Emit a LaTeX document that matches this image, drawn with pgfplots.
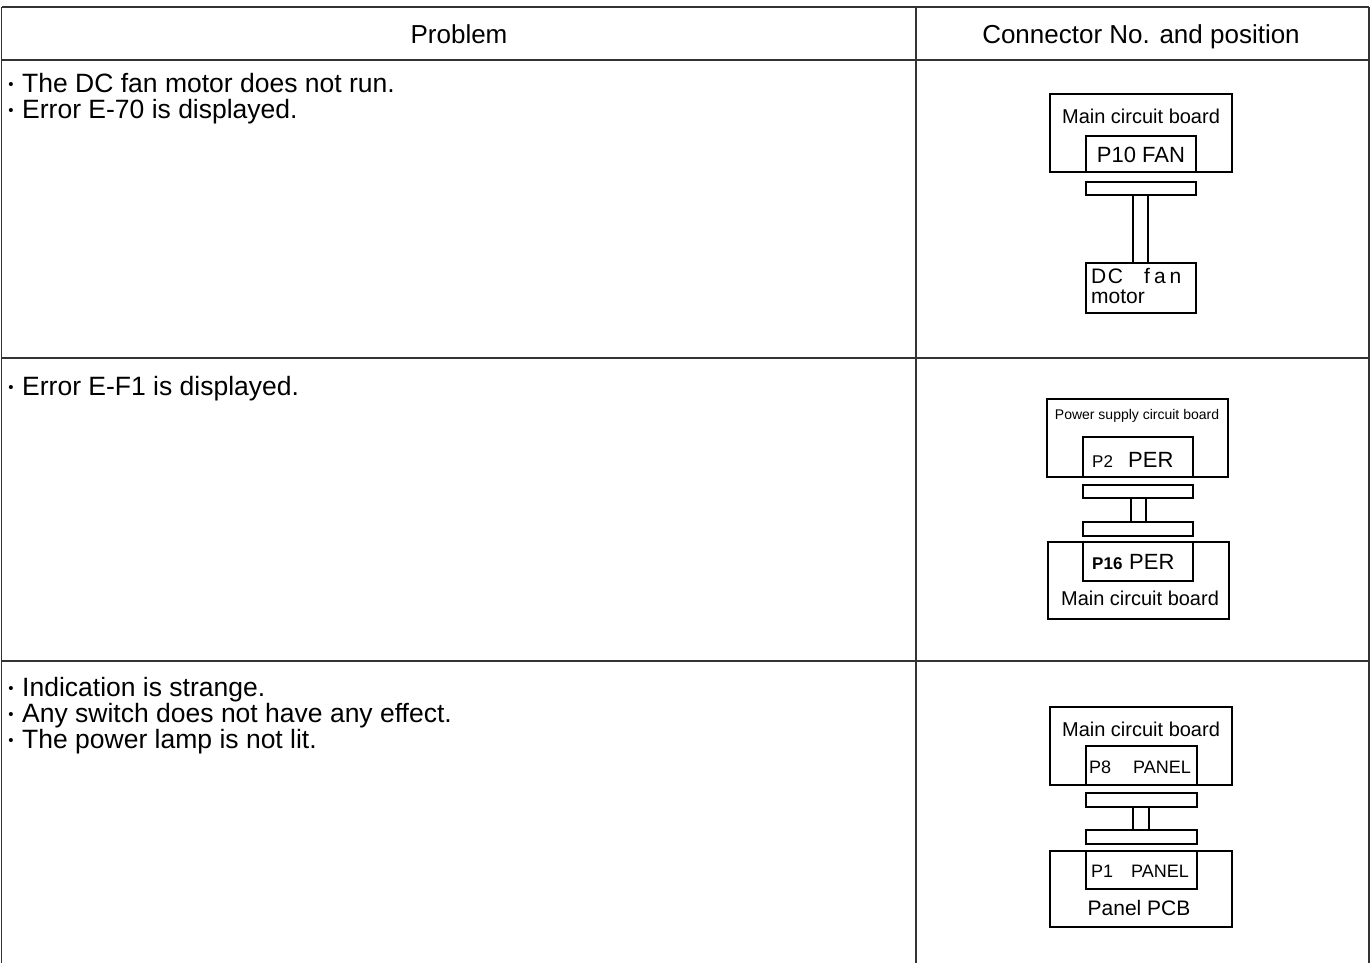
\documentclass[border=0pt]{standalone}
\usepackage{pgfplots}
\pgfplotsset{compat=1.18}
\usepackage{fontspec}
\setmainfont{Liberation Sans}
\newcommand{\fs}[1]{\fontsize{#1}{#1}\selectfont}
\newcommand{\bul}{{\fs{15}\raisebox{2.5pt}{•}}}
\begin{document}
\begin{tikzpicture}
\begin{axis}[
  width=1372pt, height=963pt, scale only axis,
  xmin=0, xmax=1372, ymin=0, ymax=963, y dir=reverse,
  hide axis, clip=false,
]
% fixed page frame
\path[draw=none] (0,0) rectangle (1372,963);
% ---------- table grid ----------
\begin{scope}[line width=1.4pt, color=black!80]
\draw (1.5,7) -- (1369,7);
\draw (1.5,60) -- (1369,60);
\draw (1.5,358) -- (1369,358);
\draw (1.5,661) -- (1369,661);
\draw (1.5,7) -- (1.5,963);
\draw (916,7) -- (916,963);
\draw (1369,7) -- (1369,963);
\end{scope}
% ---------- headers ----------
\node[anchor=base, inner sep=0] at (459,43) {\fs{26}Problem};
\node[anchor=base, inner sep=0] at (1141,43) {\fs{26}Connector No. and position};
% ---------- problem texts ----------
\node[anchor=base, inner sep=0] at (11,92) {\bul};
\node[anchor=base west, inner sep=0] at (22,92) {\fs{26.5}The DC fan motor does not run.};
\node[anchor=base, inner sep=0] at (11,118) {\bul};
\node[anchor=base west, inner sep=0] at (22,118) {\fs{26.5}Error E-70 is displayed.};
\node[anchor=base, inner sep=0] at (11,395) {\bul};
\node[anchor=base west, inner sep=0] at (22,395) {\fs{26.5}Error E-F1 is displayed.};
\node[anchor=base, inner sep=0] at (11,696) {\bul};
\node[anchor=base west, inner sep=0] at (22,696) {\fs{26.5}Indication is strange.};
\node[anchor=base, inner sep=0] at (11,722) {\bul};
\node[anchor=base west, inner sep=0] at (22,722) {\fs{26.5}Any switch does not have any effect.};
\node[anchor=base, inner sep=0] at (11,748) {\bul};
\node[anchor=base west, inner sep=0] at (22,748) {\fs{26.5}The power lamp is not lit.};
% ---------- diagram 1 ----------
\begin{scope}[line width=1.3pt]
\draw (1050,94) rectangle (1232,172);
\draw (1086,136) rectangle (1196,172);
\draw (1086,182) rectangle (1196,195);
\draw (1133,195) -- (1133,263);
\draw (1148,195) -- (1148,263);
\draw (1086,263) rectangle (1196,313);
\end{scope}
\node[anchor=base, inner sep=0] at (1141,123) {\fs{20}Main circuit board};
\node[anchor=base, inner sep=0] at (1141,162) {\fs{22}P10 FAN};
\node[anchor=base west, inner sep=0] at (1091,283) {\fs{21}D\hspace{1.5pt}C};
\node[anchor=base west, inner sep=0] at (1144,283) {\fs{21}f\hspace{4pt}a\hspace{4pt}n};
\node[anchor=base west, inner sep=0] at (1091,303) {\fs{21}motor};
% ---------- diagram 2 ----------
\begin{scope}[line width=1.3pt]
\draw (1047,399) rectangle (1228,477);
\draw (1083,437) rectangle (1193,477);
\draw (1083,485) rectangle (1193,498);
\draw (1131,498) -- (1131,522);
\draw (1146,498) -- (1146,522);
\draw (1083,522) rectangle (1193,536);
\draw (1048,542) rectangle (1229,619);
\draw (1083,542) rectangle (1193,581);
\end{scope}
\node[anchor=base, inner sep=0] at (1137,419) {\fs{14}Power supply circuit board};
\node[anchor=base west, inner sep=0] at (1092,467) {\fs{17}P2};
\node[anchor=base west, inner sep=0] at (1128,467) {\fs{22}PER};
\node[anchor=base west, inner sep=0] at (1092,569) {\fs{17}\bfseries P16};
\node[anchor=base west, inner sep=0] at (1129,569) {\fs{22}PER};
\node[anchor=base, inner sep=0] at (1140,605) {\fs{20}Main circuit board};
% ---------- diagram 3 ----------
\begin{scope}[line width=1.3pt]
\draw (1050,707) rectangle (1232,785);
\draw (1086,746) rectangle (1197,785);
\draw (1086,793) rectangle (1197,807);
\draw (1133,807) -- (1133,830);
\draw (1149,807) -- (1149,830);
\draw (1086,830) rectangle (1197,844);
\draw (1050,851) rectangle (1232,927);
\draw (1086,851) rectangle (1197,889);
\end{scope}
\node[anchor=base, inner sep=0] at (1141,736) {\fs{20}Main circuit board};
\node[anchor=base west, inner sep=0] at (1089,773) {\fs{18}P8};
\node[anchor=base west, inner sep=0] at (1133,773) {\fs{18}PANEL};
\node[anchor=base west, inner sep=0] at (1091,877) {\fs{18}P1};
\node[anchor=base west, inner sep=0] at (1131,877) {\fs{18}PANEL};
\node[anchor=base, inner sep=0] at (1139,915) {\fs{21}Panel PCB};
\end{axis}
\end{tikzpicture}
\end{document}
